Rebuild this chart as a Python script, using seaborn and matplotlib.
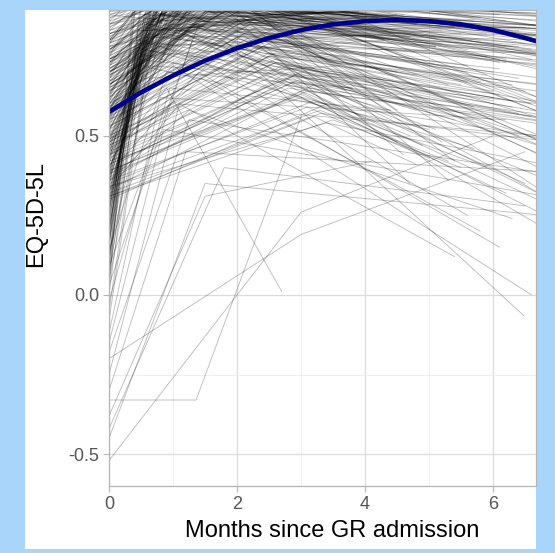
import numpy as np
import pandas as pd
import seaborn as sns
import matplotlib
matplotlib.use("Agg")
import matplotlib.pyplot as plt
from matplotlib.patches import Rectangle
from matplotlib.ticker import FixedLocator

# ---------------- data ----------------
y_admission = [
    0.62,0.71,0.80,0.66,0.85,0.58,0.74,0.90,0.69,0.77,
    0.83,0.60,0.72,0.88,0.65,0.79,0.56,0.93,0.70,0.81,
    0.64,0.75,0.87,0.59,0.68,0.82,0.73,0.91,0.63,0.78,
    0.86,0.57,0.76,0.84,0.67,0.89,0.61,0.74,0.80,0.70,
    0.92,0.66,0.79,0.58,0.85,0.72,0.63,0.88,0.77,0.69,
    0.81,0.60,0.94,0.73,0.65,0.83,0.78,0.56,0.87,0.71,
    0.68,0.90,0.62,0.76,0.84,0.59,0.80,0.74,0.67,0.86,
    0.91,0.64,0.75,0.82,0.70,0.57,0.89,0.79,0.66,0.85,
    0.35,0.22,0.48,0.17,0.41,0.29,0.55,0.38,0.25,0.45,
    0.19,0.52,0.32,0.43,0.27,0.58,0.36,0.21,0.47,0.31,
    0.40,0.16,0.53,0.34,0.26,0.50,0.44,0.23,0.37,0.56,
    0.30,0.46,0.18,0.39,0.54,0.28,0.42,0.20,0.49,0.33,
    0.57,0.24,0.45,0.37,0.15,0.51,0.29,0.43,0.35,0.26,
    0.48,0.21,0.40,0.55,0.32,0.17,0.46,0.38,0.27,0.52,
    0.05,-0.12,0.10,-0.30,0.00,0.14,-0.45,0.08,-0.20,0.12,
    -0.05,0.03,-0.38,0.11,-0.15,0.07,-0.52,0.02,-0.25,0.13,
    -0.08,0.09,-0.33,0.06,-0.02,0.15,-0.18,0.04,-0.42,0.10,
    0.60,0.75,0.45,0.82,0.52,0.68,0.38,0.88,0.57,0.72,
    0.48,0.80,0.63,0.42,0.77,0.55,0.85,0.66,0.33,0.70,
    0.50,0.90,0.61,0.44,0.79,0.58,0.73,0.36,0.83,0.65,
    0.45,0.62,0.38,0.71,0.55,0.33,0.68,0.50,0.77,0.42,
    0.59,0.36,0.73,0.48,0.65,0.30,0.57,0.80,0.44,0.69,
    0.52,0.39,0.75,0.61,0.47,0.34,0.66,0.54,0.41,0.78,
    0.58,0.31,0.70,0.46,0.63,0.37,0.74,0.51,0.43,0.67,
    0.56,0.35,0.72,0.49,0.64,0.40,0.79,0.53,0.32,0.60,
    0.47,0.76,0.38,0.69,0.55,0.44,0.71,0.36,0.62,0.50,
    0.82,0.42,0.58,0.67,0.34,0.74,0.48,0.60,0.39,0.70,
    0.53,0.45,0.77,0.31,0.64,0.57,0.41,0.73,0.49,0.66,
]
t_discharge = [
    0.9,1.2,0.7,1.5,1.0,0.8,1.3,0.6,1.7,1.1,
    0.9,1.4,0.75,1.0,1.6,0.85,1.2,0.7,1.9,1.05,
    1.3,0.65,1.1,1.5,0.95,1.2,0.8,1.4,1.0,1.7,
    0.6,1.25,0.9,1.1,1.45,0.8,1.0,1.6,0.7,1.35,
    1.15,0.9,1.5,1.05,0.75,1.8,1.2,0.95,1.3,0.85,
    1.0,1.55,0.7,1.25,1.1,0.9,1.4,1.0,0.8,1.65,
    1.2,0.95,1.35,0.75,1.05,1.5,0.9,1.15,1.7,0.85,
    1.0,1.3,0.8,1.45,1.1,0.95,1.6,0.7,1.25,1.0,
    0.6,0.5,0.9,0.45,0.8,0.7,1.1,0.55,0.65,1.0,
    0.4,1.2,0.75,0.85,0.5,1.3,0.9,0.6,1.0,0.7,
    1.4,0.45,0.95,0.8,0.55,1.1,1.2,0.5,0.85,1.5,
    0.65,1.0,0.4,0.9,1.25,0.6,0.75,0.5,1.05,0.8,
    1.6,0.55,1.15,0.7,0.45,0.95,0.65,1.3,0.85,0.5,
    1.0,0.6,1.2,1.35,0.7,0.5,0.9,0.75,0.6,1.1,
    0.5,0.8,0.4,1.2,0.6,0.9,1.5,0.45,3.0,0.7,
    0.55,1.3,1.5,0.5,0.85,0.65,3.0,0.4,1.1,0.75,
    0.6,1.4,1.36,0.5,0.95,0.45,1.25,0.7,1.8,0.55,
    1.0,1.5,0.8,2.0,1.2,0.9,1.4,1.1,1.8,0.7,
    1.3,1.6,1.0,0.9,2.2,1.2,0.8,1.5,1.1,1.9,
    1.0,1.3,0.75,1.45,1.7,1.05,0.9,1.25,2.5,1.35,
    2.1,1.6,2.8,1.9,2.4,3.2,1.7,2.6,1.5,3.0,
    2.2,2.9,1.8,2.5,2.0,3.4,2.3,1.6,2.7,1.9,
    2.4,3.1,1.7,2.1,2.6,3.3,1.8,2.2,2.9,1.5,
    2.0,3.5,1.9,2.5,2.3,2.8,1.6,2.4,3.0,2.1,
    2.6,3.2,1.8,2.2,2.0,2.7,1.5,2.5,3.3,2.3,
    2.8,1.7,3.0,2.0,2.4,2.9,1.9,3.1,2.2,2.6,
    1.6,2.7,2.1,1.8,3.4,2.0,2.5,2.3,3.0,1.9,
    2.4,2.8,1.7,3.2,2.2,2.0,2.9,1.8,2.6,2.1,
]
y_discharge = [
    0.93,0.88,0.96,0.85,1.00,0.91,0.87,0.97,0.84,0.94,
    0.99,0.86,0.92,0.95,0.89,1.00,0.83,0.98,0.90,0.94,
    0.87,0.96,0.92,0.85,0.99,0.91,0.88,1.00,0.93,0.86,
    0.97,0.90,0.84,0.95,0.92,1.00,0.89,0.87,0.96,0.93,
    0.98,0.85,0.91,0.94,0.88,0.90,1.00,0.86,0.95,0.92,
    0.89,0.97,0.93,0.84,1.00,0.91,0.87,0.96,0.94,0.88,
    0.90,0.99,0.85,0.92,0.97,0.89,0.93,0.86,1.00,0.91,
    0.95,0.88,0.94,0.90,0.87,0.98,0.92,0.96,0.83,0.93,
    0.92,0.86,0.97,0.80,0.94,0.89,1.00,0.84,0.91,0.96,
    0.78,0.93,0.88,0.99,0.83,0.95,0.90,0.87,0.98,0.82,
    0.94,0.76,0.91,1.00,0.85,0.93,0.89,0.81,0.96,0.92,
    0.87,0.98,0.79,0.90,0.95,0.84,1.00,0.77,0.93,0.88,
    0.91,0.83,0.97,0.86,0.74,0.94,0.89,0.92,1.00,0.80,
    0.95,0.85,0.90,0.96,0.87,0.72,0.93,0.98,0.82,0.91,
    0.75,0.62,0.88,0.45,0.92,0.70,0.35,0.83,0.19,0.95,
    0.68,0.80,0.31,0.90,0.52,0.86,0.26,0.97,0.60,0.78,
    0.72,0.85,-0.33,0.93,0.65,0.99,0.55,0.81,0.40,0.88,
    0.85,0.90,0.78,0.95,0.82,0.88,0.70,0.93,0.80,0.86,
    0.75,0.92,0.84,0.65,0.97,0.79,0.91,0.87,0.60,0.89,
    0.72,0.96,0.83,0.68,0.94,0.77,0.90,0.58,0.99,0.81,
    0.82,0.90,0.70,0.95,0.78,0.66,0.88,0.74,0.97,0.62,
    0.85,0.69,0.92,0.76,0.87,0.60,0.80,0.99,0.72,0.91,
    0.79,0.64,0.94,0.86,0.73,0.58,0.89,0.81,0.67,0.96,
    0.83,0.55,0.93,0.75,0.88,0.65,0.98,0.77,0.70,0.90,
    0.84,0.61,0.95,0.74,0.86,0.68,1.00,0.79,0.57,0.87,
    0.72,0.97,0.63,0.91,0.80,0.69,0.93,0.59,0.85,0.76,
    0.99,0.66,0.82,0.89,0.54,0.94,0.75,0.84,0.64,0.92,
    0.78,0.71,0.96,0.56,0.88,0.81,0.67,0.95,0.73,0.90,
]
t_followup = [
    4.2,5.8,3.6,6.9,4.9,7.5,3.9,5.2,6.4,8.1,
    4.6,5.5,3.3,7.0,6.1,4.4,8.6,5.0,3.8,6.6,
    7.8,4.1,5.7,3.5,6.3,4.8,7.2,5.3,8.9,4.0,
    6.0,3.7,5.1,7.7,4.5,6.8,3.4,5.9,8.3,4.3,
    6.5,5.4,3.9,7.3,4.7,6.2,8.0,3.6,5.6,7.1,
    4.9,3.2,6.7,5.0,8.4,4.2,6.0,7.6,3.8,5.3,
    6.9,4.6,3.5,7.9,5.8,4.1,6.3,8.7,3.7,5.5,
    7.4,4.4,6.6,3.3,5.2,8.2,4.8,6.1,3.9,7.0,
    5.1,3.8,6.7,4.4,7.6,3.2,5.9,4.8,8.3,6.2,
    3.6,5.4,7.1,4.0,6.5,8.8,3.9,5.6,4.7,7.3,
    6.0,3.4,5.2,8.0,4.5,6.8,3.7,7.7,5.0,4.2,
    6.4,3.3,8.5,5.7,4.9,7.0,3.5,6.1,4.3,7.9,
    5.3,3.9,6.6,4.6,8.1,5.8,3.6,7.4,4.1,6.3,
    5.5,8.6,3.8,6.9,4.4,5.0,7.2,3.4,6.0,4.8,
    4.3,6.2,3.5,7.4,5.0,3.8,6.8,4.6,6.5,5.5,
    3.6,6.9,4.1,5.8,7.1,3.3,6.0,4.9,8.4,5.2,
    3.9,7.6,3.0,6.4,4.4,5.7,7.9,3.7,6.5,4.8,
    6.5,7.8,5.9,8.5,6.9,7.3,6.1,8.8,6.48,6.4,
    5.6,8.2,7.5,2.7,9.0,6.2,7.7,8.0,5.4,7.1,
    6.6,8.6,7.2,5.8,8.3,6.0,7.4,6.3,9.2,7.6,
    5.6,7.2,4.8,8.0,6.3,5.1,7.6,6.0,8.7,4.5,
    6.8,5.4,7.9,6.5,5.0,8.3,6.1,7.4,4.9,6.7,
    5.8,8.5,4.6,7.0,6.4,5.3,8.1,5.9,7.3,4.7,
    6.2,5.5,7.8,4.4,6.9,8.4,5.2,7.1,6.6,4.8,
    7.5,5.7,8.2,6.0,4.6,7.7,5.4,6.8,8.6,5.1,
    6.3,7.9,4.9,7.2,5.6,8.0,6.1,5.0,7.4,6.7,
    4.5,8.3,5.9,6.4,7.6,5.3,8.8,6.2,4.7,7.0,
    5.5,6.9,8.1,4.8,7.3,6.0,5.7,8.5,6.6,5.2,
]
y_followup = [
    0.87,0.80,0.93,0.76,0.95,0.84,0.89,0.91,0.78,0.86,
    0.97,0.82,0.90,0.88,0.74,1.00,0.79,0.92,0.85,0.81,
    0.77,0.94,0.86,0.89,0.83,0.96,0.72,0.91,0.80,0.87,
    0.93,0.85,0.78,0.90,0.88,0.75,0.94,0.82,0.86,0.97,
    0.79,0.84,0.92,0.73,0.89,0.86,0.81,0.95,0.77,0.83,
    0.90,0.87,0.76,0.93,0.80,0.88,0.84,0.79,0.96,0.85,
    0.82,0.91,0.89,0.74,0.87,0.94,0.78,0.83,0.92,0.86,
    0.80,0.95,0.77,0.88,0.90,0.81,0.85,0.73,0.93,0.84,
    0.78,0.65,0.86,0.58,0.92,0.71,0.83,0.69,0.88,0.74,
    0.62,0.90,0.80,0.55,0.84,0.76,0.94,0.67,0.81,0.73,
    0.89,0.60,0.79,0.85,0.70,0.93,0.64,0.82,0.77,0.87,
    0.68,0.91,0.75,0.59,0.86,0.72,0.95,0.63,0.80,0.84,
    0.66,0.88,0.74,0.90,0.57,0.83,0.78,0.69,0.92,0.61,
    0.85,0.73,0.96,0.70,0.82,0.52,0.87,0.76,0.64,0.89,
    0.80,0.55,0.90,0.38,0.86,0.65,0.25,0.88,0.45,0.93,
    0.72,0.60,0.42,0.85,0.30,0.78,0.50,0.95,0.47,0.83,
    0.68,0.70,0.56,0.91,0.58,0.87,0.35,0.75,0.28,0.82,
    0.35,0.20,0.40,0.10,0.28,0.45,0.15,0.30,-0.065,0.50,
    0.25,0.38,0.18,0.01,0.42,0.32,0.22,0.48,0.12,0.36,
    0.00,0.26,0.44,0.20,0.34,0.55,0.14,0.24,0.40,0.30,
    0.70,0.40,0.58,0.88,0.66,0.52,0.80,0.62,0.46,0.48,
    0.75,0.55,0.38,0.64,0.79,0.45,0.71,0.52,0.60,0.83,
    0.67,0.50,0.44,0.76,0.57,0.42,0.82,0.69,0.53,0.35,
    0.73,0.40,0.55,0.63,0.78,0.49,0.48,0.65,0.56,0.85,
    0.74,0.46,0.92,0.61,0.80,0.54,0.42,0.68,0.44,0.81,
    0.59,0.50,0.47,0.84,0.72,0.51,0.88,0.43,0.77,0.64,
    0.58,0.52,0.75,0.83,0.38,0.36,0.62,0.78,0.50,0.86,
    0.66,0.57,0.47,0.41,0.81,0.70,0.55,0.90,0.60,0.85,
]

# smoothed mean trajectory
smooth_months = [0.0,0.5,1.0,1.5,2.0,2.5,3.0,3.5,4.0,4.5,5.0,5.5,6.0,6.5,6.8]
smooth_eq5d   = [0.575,0.636,0.689,0.736,0.775,0.807,0.832,0.850,0.860,0.864,0.860,0.850,0.832,0.807,0.790]

x_ticks = [0, 2, 4, 6]
y_ticks = [-0.5, 0.0, 0.5]
y_tick_labels = ["-0.5", "0.0", "0.5"]

# ---------------- build long table ----------------
n = min(len(y_admission), len(t_discharge), len(y_discharge), len(t_followup), len(y_followup))
rows = []
for i in range(n):
    rows.append((i, 0.0, y_admission[i]))
    rows.append((i, t_discharge[i], y_discharge[i]))
    rows.append((i, t_followup[i], y_followup[i]))
df = pd.DataFrame(rows, columns=["pid", "months", "eq5d"])
smooth = pd.DataFrame({"months": smooth_months, "eq5d": smooth_eq5d})

# ---------------- figure ----------------
sns.set_theme(style="white")
plt.rcParams["font.family"] = ["Liberation Sans", "DejaVu Sans"]

W, H = 555, 553
fig = plt.figure(figsize=(W / 100, H / 100), dpi=100)
fig.patch.set_facecolor("#A9D5FB")
panel = Rectangle((25 / W, 4 / H), (536 - 25) / W, (543 - 4) / H,
                  transform=fig.transFigure, facecolor="white",
                  edgecolor="none", zorder=-10)
fig.add_artist(panel)

left, right, top, bottom = 109, 536, 10, 486
ax = fig.add_axes([left / W, (H - bottom) / H, (right - left) / W, (bottom - top) / H])
ax.set_zorder(1)
ax.set_facecolor("white")

sns.lineplot(data=df, x="months", y="eq5d", units="pid", estimator=None,
             color="black", alpha=0.26, linewidth=0.65, ax=ax, sort=False, zorder=2)
sns.lineplot(data=smooth, x="months", y="eq5d", color="#00008B",
             linewidth=3.3, ax=ax, zorder=3)

ax.set_xlim(0, 6.67)
ax.set_ylim(-0.6, 0.895)
ax.set_xticks(x_ticks)
ax.set_xticklabels([str(v) for v in x_ticks])
ax.set_yticks(y_ticks)
ax.set_yticklabels(y_tick_labels)
ax.xaxis.set_minor_locator(FixedLocator([1, 3, 5]))
ax.yaxis.set_minor_locator(FixedLocator([-0.25, 0.25, 0.75]))
ax.grid(True, which="major", color="#dcdcdc", linewidth=0.9, zorder=0)
ax.grid(True, which="minor", color="#ececec", linewidth=0.6, zorder=0)
ax.set_axisbelow(True)

for side in ["left", "bottom", "top", "right"]:
    ax.spines[side].set_color("#b5b5b5")
    ax.spines[side].set_linewidth(0.9)
    ax.spines[side].set_zorder(4)

ax.tick_params(axis="both", which="major", length=4, width=0.8, color="#b5b5b5",
               labelsize=13, labelcolor="#555555", pad=3, bottom=True, left=True)
ax.tick_params(axis="both", which="minor", length=0)

ax.set_xlabel("Months since GR admission", fontsize=17, color="black")
ax.set_ylabel("EQ-5D-5L", fontsize=17, color="black")
ax.xaxis.set_label_coords(0.523, -0.072)
ax.yaxis.set_label_coords(-0.145, 0.571)

fig.savefig("out.png", dpi=100, facecolor=fig.get_facecolor())
